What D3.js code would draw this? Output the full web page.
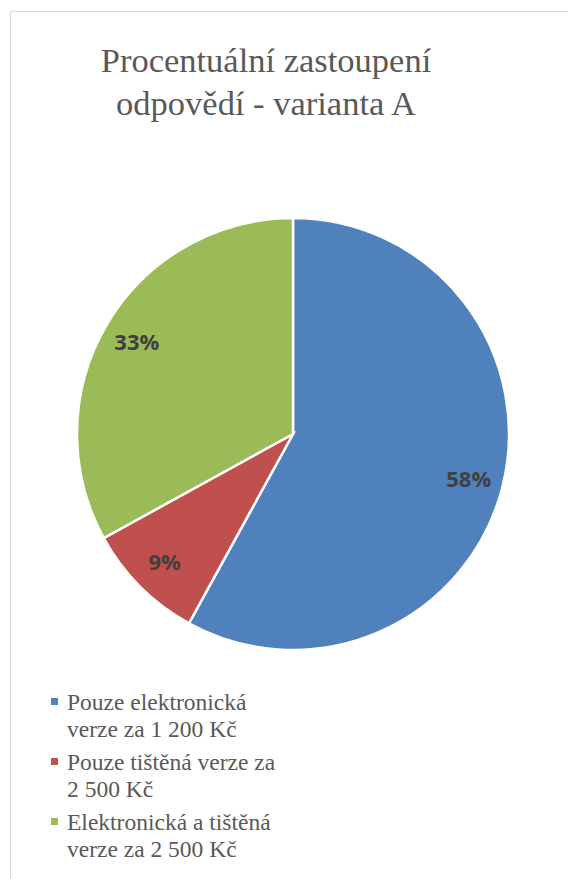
<!DOCTYPE html>
<html>
<head>
<meta charset="utf-8">
<script src="https://cdn.jsdelivr.net/npm/d3@7"></script>
<style>
  body { margin: 0; background: #fff; }
</style>
</head>
<body>
<div id="chart"></div>
<script>
var width = 568,
    height = 879;

var titleLines = ["Procentuální zastoupení", "odpovědí - varianta A"];
var categories = [
    "Pouze elektronická verze za 1 200 Kč",
    "Pouze tištěná verze za 2 500 Kč",
    "Elektronická a tištěná verze za 2 500 Kč"
];
var legendLines = [
    ["Pouze elektronická", "verze za 1 200 Kč"],
    ["Pouze tištěná verze za", "2 500 Kč"],
    ["Elektronická a tištěná", "verze za 2 500 Kč"]
];
var values = [58, 9, 33];
var colors = ["#4F81BD", "#C0504D", "#9BBB59"];

var serif = "Liberation Serif";

var svg = d3.select("#chart").append("svg")
    .attr("width", width)
    .attr("height", height);

// chart area frame (runs off the right and bottom edge)
svg.append("rect")
    .attr("x", 10.5)
    .attr("y", 11.5)
    .attr("width", 700)
    .attr("height", 1000)
    .attr("fill", "#fff")
    .attr("stroke", "#d9d9d9")
    .attr("stroke-width", 1);

svg.selectAll("text.title")
    .data(titleLines)
    .enter().append("text")
    .attr("class", "title")
    .attr("x", 266)
    .attr("y", function (d, i) { return 72 + i * 43; })
    .attr("text-anchor", "middle")
    .attr("font-family", serif)
    .attr("font-size", 34.5)
    .attr("fill", "#595959")
    .text(function (d) { return d; });

var cx = 293, cy = 434, r = 216;

var pie = d3.pie().sort(null).value(function (d) { return d; });
var arc = d3.arc().innerRadius(0).outerRadius(r);
var labelArc = d3.arc().innerRadius(r * 0.84).outerRadius(r * 0.84);

var g = svg.append("g")
    .attr("transform", "translate(" + cx + "," + cy + ")");

var slices = g.selectAll("g.slice")
    .data(pie(values))
    .enter().append("g")
    .attr("class", "slice");

slices.append("path")
    .attr("d", arc)
    .attr("fill", function (d, i) { return colors[i]; })
    .attr("stroke", "#fff")
    .attr("stroke-width", 2.5);

slices.append("text")
    .attr("transform", function (d) { return "translate(" + labelArc.centroid(d) + ")"; })
    .attr("text-anchor", "middle")
    .attr("dy", ".36em")
    .attr("font-family", "Open Sans")
    .attr("font-weight", "bold")
    .attr("font-size", 22)
    .attr("fill", "#404040")
    .text(function (d) { return d.data + "%"; });

// legend
var legendTop = [710, 770, 830];
var leg = svg.selectAll("g.legend")
    .data(categories)
    .enter().append("g")
    .attr("class", "legend");

leg.append("rect")
    .attr("x", 51)
    .attr("y", function (d, i) { return legendTop[i] - 12; })
    .attr("width", 7)
    .attr("height", 7)
    .attr("fill", function (d, i) { return colors[i]; });

leg.each(function (d, i) {
    d3.select(this).selectAll("text")
        .data(legendLines[i])
        .enter().append("text")
        .attr("x", 67)
        .attr("y", function (t, j) { return legendTop[i] + j * 27; })
        .attr("font-family", serif)
        .attr("font-size", 23.5)
        .attr("fill", "#595959")
        .text(function (t) { return t; });
});
</script>
</body>
</html>
